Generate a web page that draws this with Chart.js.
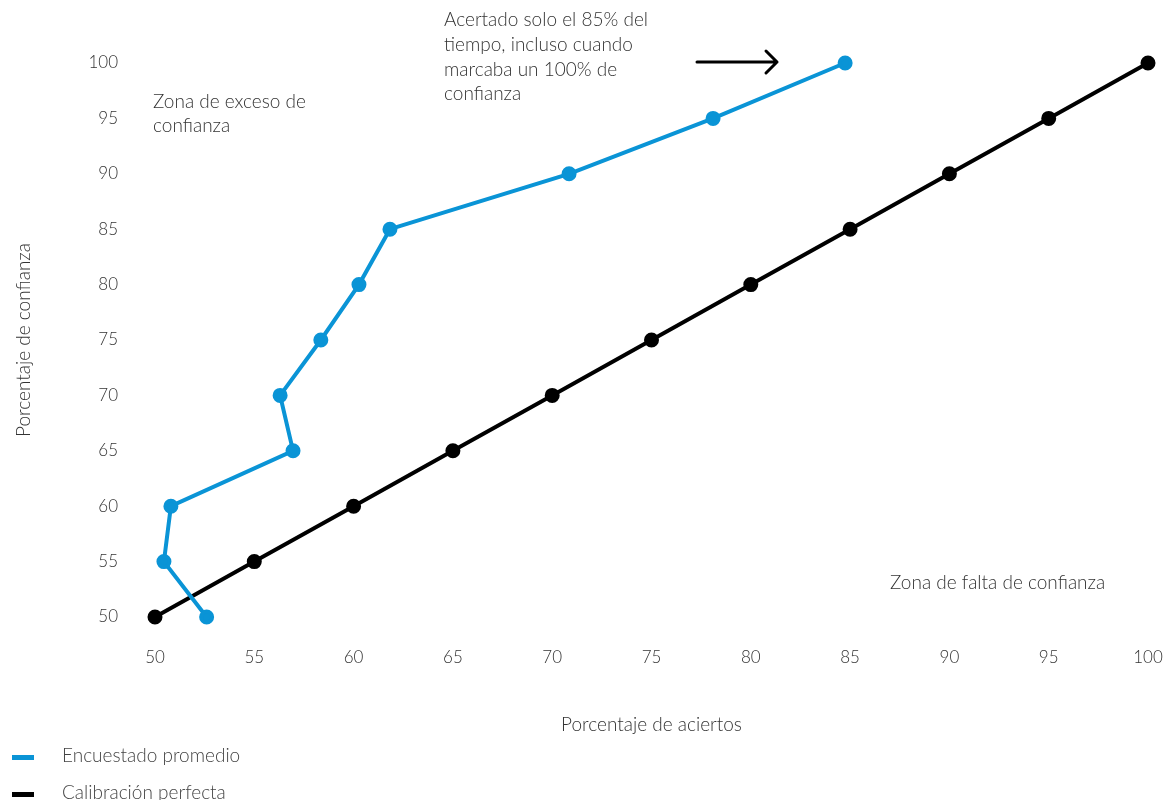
<!DOCTYPE html>
<html>
<head>
<meta charset="utf-8">
<script src="https://cdn.jsdelivr.net/npm/chart.js@4.4.1/dist/chart.umd.min.js"></script>
<style>
  html, body { margin: 0; padding: 0; background: #fff; }
  #wrap { position: relative; width: 1164px; height: 800px; }
  #legend { position: absolute; left: 12px; top: 740px; font: 300 19px Lato, sans-serif; color: #444; }
  #legend div { height: 37px; line-height: 30px; }
  #legend span { display: inline-block; width: 22px; height: 5px; vertical-align: middle; margin-right: 28px; }
</style>
</head>
<body>
<div id="wrap">
  <canvas id="calibChart" width="1164" height="800"></canvas>
  <div id="legend"></div>
</div>
<script>
// ── Data ─────────────────────────────────────────────
const ticks = [50, 55, 60, 65, 70, 75, 80, 85, 90, 95, 100];

const surveyAccuracy   = [52.6, 50.45, 50.8, 56.95, 56.3, 58.35, 60.27, 61.83, 70.85, 78.1, 84.75];
const surveyConfidence = [50, 55, 60, 65, 70, 75, 80, 85, 90, 95, 100];

const perfectAccuracy   = [50, 55, 60, 65, 70, 75, 80, 85, 90, 95, 100];
const perfectConfidence = [50, 55, 60, 65, 70, 75, 80, 85, 90, 95, 100];

const seriesNames  = ["Encuestado promedio", "Calibración perfecta"];
const seriesColors = ["#0a94d6", "#000000"];

const FONT = "Lato, sans-serif";
const TEXT = "#333";

const toPoints = (xs, ys) => xs.map((x, i) => ({ x, y: ys[i] }));

// Annotation texts, drawn after the chart
const notes = {
  id: "notes",
  afterDraw(chart) {
    const c = chart.ctx;
    c.save();
    c.fillStyle = TEXT;
    c.font = "300 19px " + FONT;
    c.textAlign = "left";
    c.textBaseline = "middle";
    ["Zona de exceso de", "confianza"].forEach((t, i) => c.fillText(t, 153, 102 + i * 24));
    ["Acertado solo el 85% del", "tiempo, incluso cuando", "marcaba un 100% de", "confianza"]
      .forEach((t, i) => c.fillText(t, 444, 20 + i * 24.7));
    c.fillText("Zona de falta de confianza", 890, 583);

    // arrow
    c.strokeStyle = "#000";
    c.lineWidth = 3;
    c.lineCap = "round";
    c.lineJoin = "round";
    c.beginPath();
    c.moveTo(697, 62);
    c.lineTo(777, 62);
    c.moveTo(766, 51);
    c.lineTo(777, 62);
    c.lineTo(766, 73);
    c.stroke();
    c.restore();
  }
};

new Chart(document.getElementById("calibChart"), {
  type: "scatter",
  data: {
    datasets: [
      {
        label: seriesNames[0],
        data: toPoints(surveyAccuracy, surveyConfidence),
        showLine: true,
        borderColor: seriesColors[0],
        backgroundColor: seriesColors[0],
        borderWidth: 4,
        pointRadius: 5.5,
        pointHoverRadius: 6,
        clip: false,
        order: 1
      },
      {
        label: seriesNames[1],
        data: toPoints(perfectAccuracy, perfectConfidence),
        showLine: true,
        borderColor: seriesColors[1],
        backgroundColor: seriesColors[1],
        borderWidth: 4,
        pointRadius: 5.5,
        pointHoverRadius: 6,
        clip: false,
        order: 2
      }
    ]
  },
  options: {
    responsive: false,
    animation: false,
    layout: { padding: { top: 63, right: 16, bottom: 64, left: 8 } },
    plugins: {
      legend: { display: false },
      tooltip: { enabled: true }
    },
    scales: {
      x: {
        type: "linear",
        min: 50,
        max: 100,
        afterBuildTicks: s => { s.ticks = ticks.map(v => ({ value: v })); },
        afterFit: s => { s.height = 119; s.paddingLeft = 0; s.paddingRight = 0; },
        grid: { display: false, drawTicks: false },
        border: { display: false },
        ticks: { color: TEXT, padding: 30, font: { family: FONT, size: 17, weight: 300 } },
        title: {
          display: true,
          text: "Porcentaje de aciertos",
          color: TEXT,
          padding: { top: 22, bottom: 0 },
          font: { family: FONT, size: 19, weight: 300 }
        }
      },
      y: {
        type: "linear",
        min: 50,
        max: 100,
        afterBuildTicks: s => { s.ticks = ticks.map(v => ({ value: v })); },
        afterFit: s => { s.width = 147; s.paddingTop = 0; s.paddingBottom = 0; },
        grid: { display: false, drawTicks: false },
        border: { display: false },
        ticks: { color: TEXT, padding: 37, font: { family: FONT, size: 17, weight: 300 } },
        title: {
          display: true,
          text: "Porcentaje de confianza",
          color: TEXT,
          padding: { bottom: 52 },
          font: { family: FONT, size: 19, weight: 300 }
        }
      }
    }
  },
  plugins: [notes]
});

// simple legend below the chart
document.getElementById("legend").innerHTML = seriesNames
  .map((n, i) => `<div><span style="background:${seriesColors[i]}"></span>${n}</div>`)
  .join("");
</script>
</body>
</html>
